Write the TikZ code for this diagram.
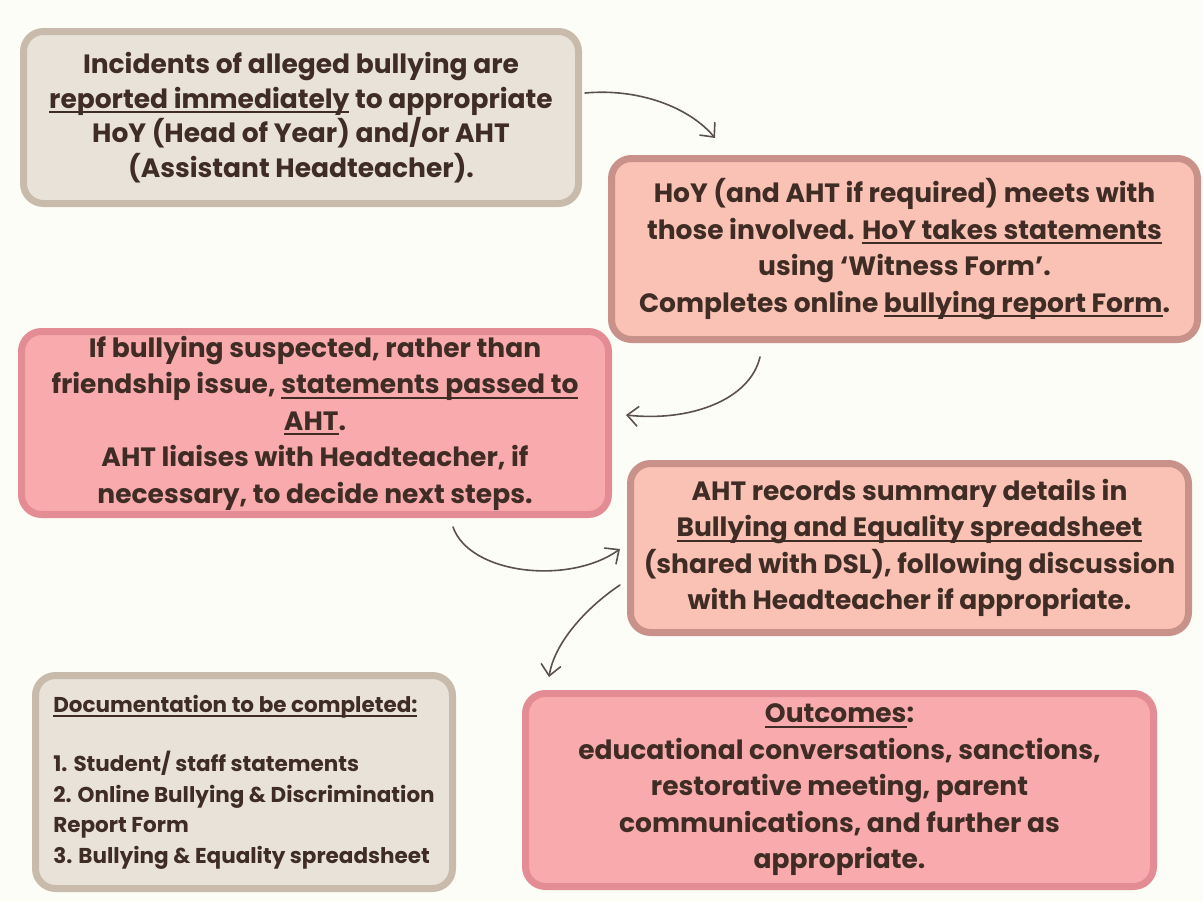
\documentclass[tikz,border=0pt]{standalone}
\usepackage{fontspec}
\setmainfont{Poppins}
\usetikzlibrary{arrows.meta}
\definecolor{bgcol}{HTML}{FDFDF7}
\definecolor{inkcol}{HTML}{3E2C25}
\definecolor{beigefill}{HTML}{E9E2D9}
\definecolor{beigeline}{HTML}{C9BBAB}
\definecolor{salmonfill}{HTML}{FAC2B4}
\definecolor{salmonline}{HTML}{C8928A}
\definecolor{pinkfill}{HTML}{F8AAAD}
\definecolor{pinkline}{HTML}{E38C93}
\definecolor{arrowcol}{HTML}{5A504C}
% underline that cuts through descenders
\newcommand\ulx[1]{\setbox0\hbox{#1}\rlap{\rule[-5pt]{\wd0}{1.9pt}}\box0{}}
\tikzset{
  card/.style={rounded corners=20pt, line width=7pt, inner sep=0pt,
    text=inkcol, align=center, font=\bfseries\fontsize{26.5}{36.5}\selectfont},
  beigecard/.style={card, fill=beigefill, draw=beigeline},
  salmoncard/.style={card, fill=salmonfill, draw=salmonline},
  pinkcard/.style={card, fill=pinkfill, draw=pinkline},
  flow/.style={draw=arrowcol, line width=1.6pt, line cap=round,
    -{Straight Barb[length=11pt,width=20pt,line width=1.6pt]}}
}
\begin{document}
\begin{tikzpicture}[x=1pt,y=-1pt]
\fill[bgcol] (0,0) rectangle (1203,902);
\useasboundingbox (0,0) rectangle (1203,902);

\node[beigecard, minimum width=555pt, minimum height=172pt,
      font=\bfseries\fontsize{26.5}{34.5}\selectfont] (report) at (301,117.5)
  {Incidents of alleged bullying are\\
   \ulx{reported immediately} to appropriate\\
   HoY (Head of Year) and/or AHT\\
   (Assistant Headteacher).};

\node[salmoncard, minimum width=586pt, minimum height=181pt] (meet) at (904.5,249)
  {HoY (and AHT if required) meets with\\
   those involved. \ulx{HoY takes statements}\\
   using `Witness Form'.\\
   Completes online \ulx{bullying report Form}.};

\node[pinkcard, minimum width=587pt, minimum height=183pt] (pass) at (315,423)
  {If bullying suspected, rather than\\
   friendship issue, \ulx{statements passed to}\\
   \ulx{AHT}.\\
   AHT liaises with Headteacher, if\\
   necessary, to decide next steps.};

\node[salmoncard, minimum width=558pt, minimum height=169pt] (record) at (909.5,548)
  {AHT records summary details in\\
   \ulx{Bullying and Equality spreadsheet}\\
   (shared with DSL), following discussion\\
   with Headteacher if appropriate.};

\node[beigecard, minimum width=417pt, minimum height=213pt, align=left,
      font=\bfseries\fontsize{21.5}{30.5}\selectfont] (docs) at (244,782)
  {\ulx{Documentation to be completed:}\\[29pt]
   1. Student/ staff statements\\
   2. Online Bullying \& Discrimination\\
   Report Form\\
   3. Bullying \& Equality spreadsheet};

\node[pinkcard, minimum width=628pt, minimum height=193pt] (outcomes) at (839.5,790)
  {\ulx{Outcomes}:\\
   educational conversations, sanctions,\\
   restorative meeting, parent\\
   communications, and further as\\
   appropriate.};

% connector end points
\coordinate (s1) at (585,93);
\coordinate (e1) at (715,138);
\coordinate (s2) at (760,357);
\coordinate (e2) at (626,415);
\coordinate (s3) at (453,527);
\coordinate (e3) at (620,549);
\coordinate (s4) at (620,585);
\coordinate (e4) at (549,677);

\draw[flow] (s1) .. controls (640,88) and (690,108) .. (e1);
\draw[flow] (s2) .. controls (750,400) and (690,422) .. (e2);
\draw[flow] (s3) .. controls (470,575) and (570,585) .. (e3);
\draw[flow] (s4) .. controls (590,605) and (555,640) .. (e4);
\end{tikzpicture}
\end{document}
